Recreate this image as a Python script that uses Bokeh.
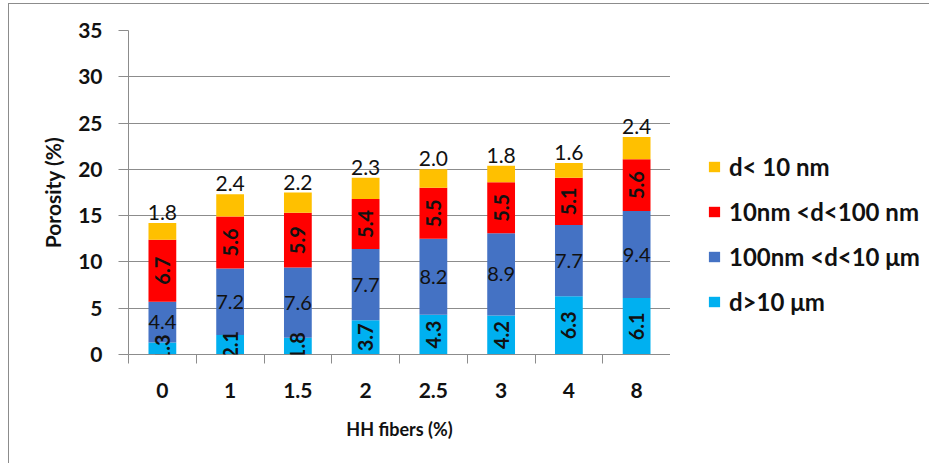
import math
from bokeh.plotting import figure
from bokeh.layouts import row
from bokeh.models import (Range1d, FixedTicker, ColumnDataSource, LabelSet,
                          Legend, LegendItem, LinearAxis, Grid)
from bokeh.core.properties import value
from bokeh.embed import file_html
from bokeh.resources import INLINE

# ---- data ----
categories = ["0", "1", "1.5", "2", "2.5", "3", "4", "8"]
d_gt_10um = [1.3, 2.1, 1.8, 3.7, 4.3, 4.2, 6.3, 6.1]
d_100nm_10um = [4.4, 7.2, 7.6, 7.7, 8.2, 8.9, 7.7, 9.4]
d_10_100nm = [6.7, 5.6, 5.9, 5.4, 5.5, 5.5, 5.1, 5.6]
d_lt_10nm = [1.8, 2.4, 2.2, 2.3, 2.0, 1.8, 1.6, 2.4]
series_names = ["d>10 μm", "100nm <d<10 μm", "10nm <d<100 nm", "d< 10 nm"]
y_ticks = [0, 5, 10, 15, 20, 25, 30, 35]
x_title = "HH fibers (%)"
y_title = "Porosity (%)"

colors = ["#00B0F0", "#4472C4", "#FF0000", "#FFC000"]
FONT = "Lato"
GRID = "#8c8c8c"

series = [d_gt_10um, d_100nm_10um, d_10_100nm, d_lt_10nm]
keys = ["s0", "s1", "s2", "s3"]
n = len(categories)
xs = [i + 0.5 for i in range(n)]

data = {"x": xs}
for k, s in zip(keys, series):
    data[k] = s
src = ColumnDataSource(data)

# the row is shifted by (8, 3) plus a 1px border -> canvas origin at (9, 4)
OX, OY = 9, 4
H = 459
p = figure(width=670 - OX, height=H, output_backend="svg", toolbar_location=None,
           x_range=Range1d(0, n), y_range=Range1d(y_ticks[0], y_ticks[-1]),
           min_border_left=128 - OX, min_border_right=0, min_border_top=30 - OY,
           min_border_bottom=H - (354 - OY), x_axis_type=None, y_axis_type=None)
p.outline_line_color = None
p.background_fill_color = "white"
p.border_fill_color = "white"

# y axis
yax = LinearAxis(ticker=FixedTicker(ticks=y_ticks, minor_ticks=[]))
yax.axis_line_color = GRID
yax.major_tick_line_color = GRID
yax.major_tick_out = 10
yax.major_tick_in = 0
yax.minor_tick_line_color = None
yax.major_label_standoff = 16
yax.major_label_text_font = FONT
yax.major_label_text_font_style = "bold"
yax.major_label_text_font_size = "21px"
yax.major_label_text_color = "#111111"
yax.axis_label = y_title
yax.axis_label_text_font = FONT
yax.axis_label_text_font_style = "bold"
yax.axis_label_text_font_size = "21px"
yax.axis_label_text_color = "#111111"
yax.axis_label_standoff = 10
p.add_layout(yax, "left")

# x axis: labels at category centres, ticks at boundaries
xax = LinearAxis(ticker=FixedTicker(ticks=xs, minor_ticks=list(range(n + 1))))
xax.major_label_overrides = {x: c for x, c in zip(xs, categories)}
xax.axis_line_color = GRID
xax.major_tick_line_color = None
xax.major_tick_out = 0
xax.major_tick_in = 0
xax.minor_tick_line_color = GRID
xax.minor_tick_out = 9
xax.minor_tick_in = 0
xax.major_label_standoff = 19
xax.major_label_text_font = FONT
xax.major_label_text_font_style = "bold"
xax.major_label_text_font_size = "21px"
xax.major_label_text_color = "#111111"
xax.axis_label = x_title
xax.axis_label_text_font = FONT
xax.axis_label_text_font_style = "bold"
xax.axis_label_text_font_size = "18px"
xax.axis_label_text_color = "#111111"
xax.axis_label_standoff = 17
p.add_layout(xax, "below")

g = Grid(dimension=1, ticker=FixedTicker(ticks=y_ticks[1:]))
g.grid_line_color = GRID
g.grid_line_width = 1
p.add_layout(g)

rends = p.vbar_stack(keys, x="x", width=0.41, color=colors, line_color=None,
                     source=src)

# labels
cum = [0.0] * n
for idx, (k, s) in enumerate(zip(keys, series)):
    mids = [c + v / 2 for c, v in zip(cum, s)]
    tops = [c + v for c, v in zip(cum, s)]
    txt = [f"{v:.1f}" for v in s]
    ls = ColumnDataSource({"x": xs, "mid": mids, "top": tops, "t": txt})
    if idx in (0, 2):
        lab = LabelSet(x="x", y="mid", text="t", source=ls, angle=math.pi / 2,
                       text_align="center", text_baseline="middle",
                       text_font=value(FONT), text_font_style="bold",
                       text_font_size="20px", text_color="#111111")
    elif idx == 1:
        lab = LabelSet(x="x", y="mid", text="t", source=ls,
                       text_align="center", text_baseline="middle",
                       text_font=value(FONT), text_font_size="20px",
                       text_color="#111111")
    else:
        lab = LabelSet(x="x", y="top", text="t", source=ls, y_offset=3,
                       text_align="center", text_baseline="alphabetic",
                       text_font=value(FONT), text_font_size="21px",
                       text_color="#111111")
    p.add_layout(lab)
    cum = tops

# legend panel: a second figure with hidden copies of the stacked bars;
# only their legend swatches are drawn
q = figure(width=259, height=H, output_backend="svg", toolbar_location=None,
           x_range=Range1d(0, 1), y_range=Range1d(0, 1),
           min_border_left=0, min_border_right=0, min_border_top=0,
           min_border_bottom=0, x_axis_type=None, y_axis_type=None)
q.outline_line_color = None
q.xgrid.visible = False
q.ygrid.visible = False
lrends = q.vbar_stack(keys, x="x", width=0.41, color=colors, line_color=None,
                      source=src)
for r in lrends:
    r.visible = False
items = [LegendItem(label=series_names[i], renderers=[lrends[i]]) for i in reversed(range(4))]
leg = Legend(items=items, location=(37, 38))
leg.padding = 0
leg.margin = 0
leg.border_line_color = None
leg.background_fill_alpha = 0
leg.inactive_fill_alpha = 0
leg.glyph_width = 14
leg.glyph_height = 13
leg.label_height = 29
leg.spacing = 16
leg.label_standoff = 8
leg.label_text_font = FONT
leg.label_text_font_style = "bold"
leg.label_text_font_size = "24px"
leg.label_text_color = "#111111"
q.add_layout(leg)

layout = row(p, q, spacing=0)
layout.styles = {"margin-left": "8px", "margin-top": "3px",
                 "border-top": "1px solid #8c8c8c",
                 "border-left": "1px solid #8c8c8c"}
open("out.html", "w").write(file_html(layout, INLINE))
